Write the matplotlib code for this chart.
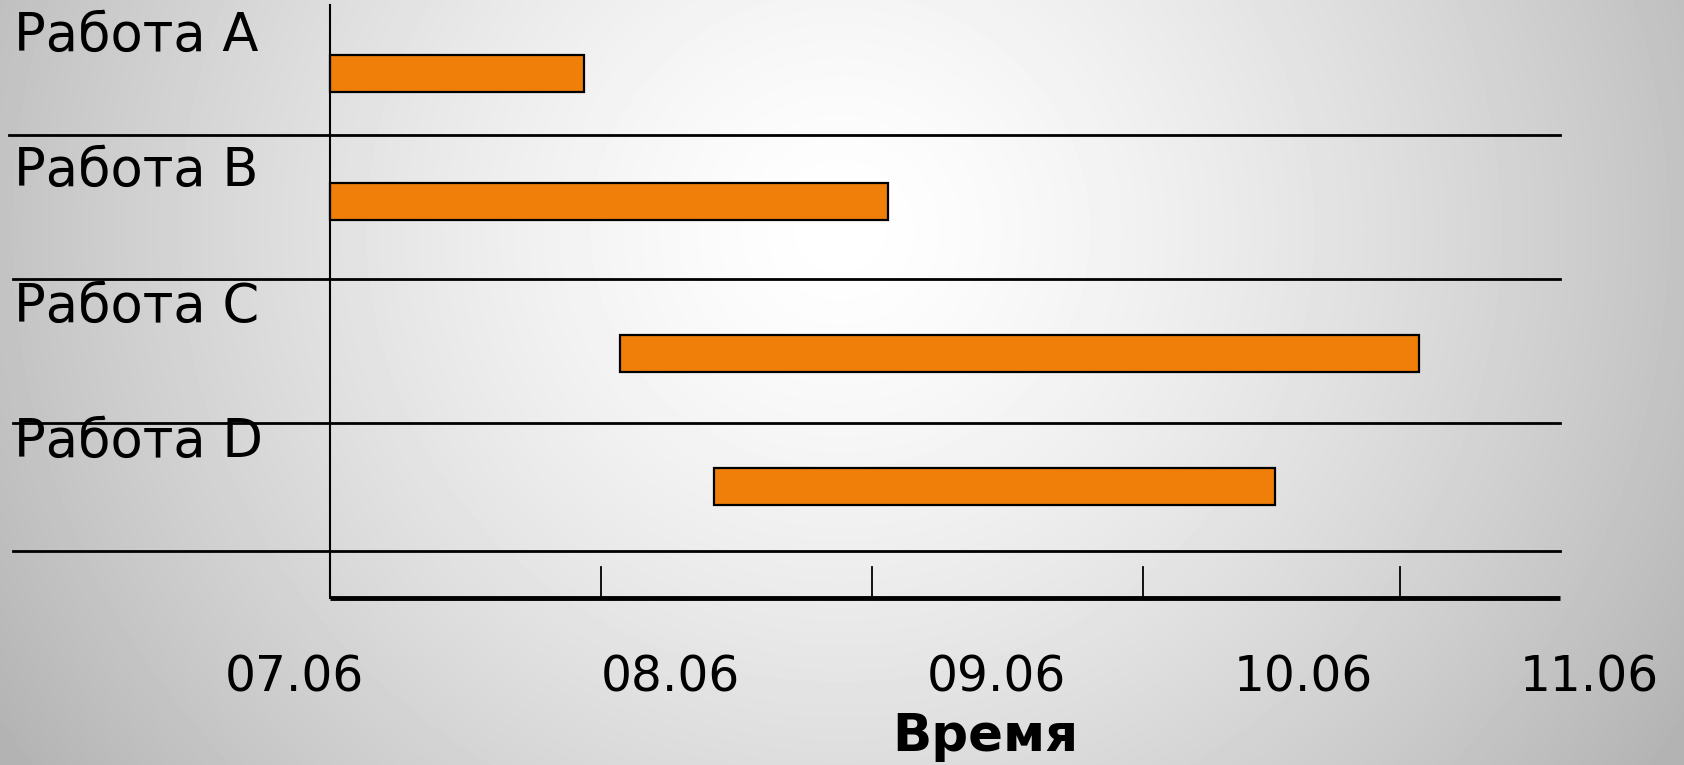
import matplotlib
matplotlib.use('Agg')
import matplotlib.pyplot as plt
import numpy as np

# tasks and their start / end in days of June
tasks = ['Работа A', 'Работа B', 'Работа C', 'Работа D']
start = [7.0, 7.0, 8.07, 8.42]
finish = [7.94, 9.06, 11.02, 10.49]

tick_days = [7.0, 8.0, 9.0, 10.0, 10.95]
tick_labels = ['07.06', '08.06', '09.06', '10.06', '11.06']
label_days = [6.87, 8.256, 9.459, 10.595, 11.65]
xlabel = 'Время'

W, H = 1684, 765
# layout in pixels (y grows downward)
band_edges = [5, 135, 279, 423, 551]
bar_y = [73.5, 201.5, 353, 486]
label_base = [51, 186, 322, 457]
axis_y = 598

fig = plt.figure(figsize=(W / 100, H / 100), dpi=100)

# radial grey background
bg = fig.add_axes([0, 0, 1, 1])
yy, xx = np.mgrid[0:H, 0:W]
d = np.sqrt((xx - 840.0) ** 2 + ((yy - 230.0) * 1.05) ** 2) / 1000.0
shade = 1 - 0.30 * np.clip(d, 0, 1) ** 1.4
bg.imshow(shade, cmap='gray', vmin=0, vmax=1, aspect='auto', extent=(0, W, H, 0))
bg.axis('off')

ax = fig.add_axes([0, 0, 1, 1])
ax.patch.set_alpha(0)
ax.set_xlim(5.7838, 11.9978)
ax.set_ylim(H, 0)
ax.axis('off')

widths = np.array(finish) - np.array(start)
ax.barh(bar_y, widths, left=start, height=37, color='#F07F0A',
        edgecolor='black', linewidth=1.6, zorder=3)

# row separators
x_right = 11.54
for i, e in enumerate(band_edges[1:]):
    x_left = 5.817 if i == 0 else 5.832
    ax.plot([x_left, x_right], [e, e], color='black', lw=2, zorder=2)
for name, yb in zip(tasks, label_base):
    ax.text(5.835, yb, name, fontsize=38, va='baseline', ha='left', color='black')

# axes lines
ax.plot([7, 7], [band_edges[0], axis_y], color='black', lw=1.5, zorder=4)
ax.plot([7, x_right], [axis_y, axis_y], color='black', lw=3.5, zorder=4,
        solid_capstyle='butt')
for t in tick_days[1:]:
    ax.plot([t, t], [567, axis_y], color='black', lw=1.3, zorder=4)

for x, lab in zip(label_days, tick_labels):
    ax.text(x, 678, lab, fontsize=35, ha='center', va='center', color='black')

ax.text(9.42, 737, xlabel, fontsize=37, fontweight='bold', ha='center',
        va='center', color='black')

fig.savefig('out.png', dpi=100)
